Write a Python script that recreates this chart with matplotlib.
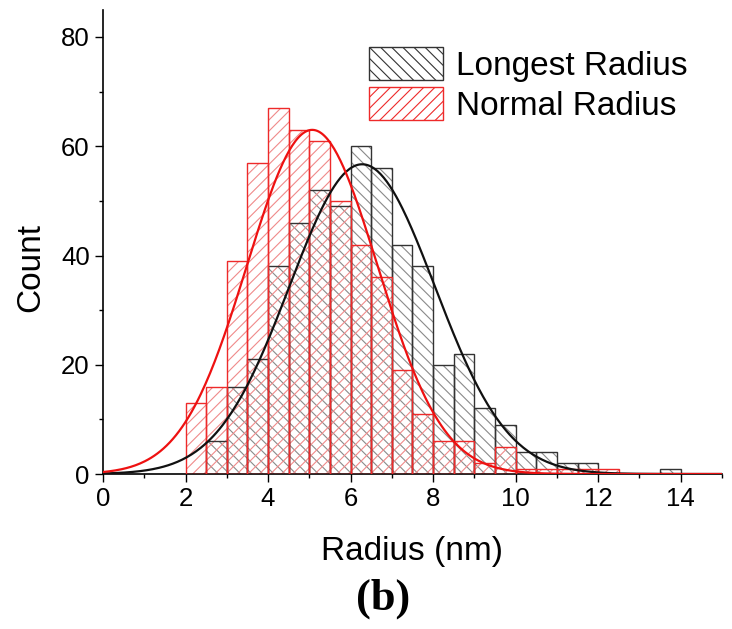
import numpy as np
import matplotlib
matplotlib.use("Agg")
import matplotlib.pyplot as plt
from matplotlib.ticker import MultipleLocator
from matplotlib.patches import Patch

# ---- data ----
bin_left = [2.0, 2.5, 3.0, 3.5, 4.0, 4.5, 5.0, 5.5, 6.0, 6.5, 7.0, 7.5,
            8.0, 8.5, 9.0, 9.5, 10.0, 10.5, 11.0, 11.5, 12.0, 12.5, 13.0, 13.5]
longest_counts = [0, 6, 16, 21, 38, 46, 52, 49, 60, 56, 42, 38,
                  20, 22, 12, 9, 4, 4, 2, 2, 0, 0, 0, 1]
normal_counts = [13, 16, 39, 57, 67, 63, 61, 50, 42, 36, 19, 11,
                 6, 6, 2, 5, 1, 1, 1, 1, 1, 0, 0, 0]
bin_width = 0.5

# Gaussian fit parameters
longest_fit = dict(amp=56.7, mu=6.28, sigma=1.76)
normal_fit = dict(amp=63.0, mu=5.07, sigma=1.58)

x_ticks = [0, 2, 4, 6, 8, 10, 12, 14]
y_ticks = [0, 20, 40, 60, 80]

plt.rcParams['font.family'] = ['Liberation Sans', 'DejaVu Sans']
plt.rcParams['hatch.linewidth'] = 0.8

fig = plt.figure(figsize=(7.32, 6.29), dpi=100)
ax = fig.add_axes([0.1407, 0.2464, 0.8456, 0.7382])

def draw(counts, hatch, hatch_col, edge_col):
    counts = np.asarray(counts, dtype=float)
    left = np.asarray(bin_left)
    m = counts > 0
    ax.bar(left[m], counts[m], width=bin_width, align='edge', fill=False,
           hatch=hatch, edgecolor=hatch_col, linewidth=0, zorder=2)
    ax.bar(left[m], counts[m], width=bin_width, align='edge', fill=False,
           edgecolor=edge_col, linewidth=1.0, zorder=3)

draw(longest_counts, '\\\\\\', '#8a8a8a', '#333333')
draw(normal_counts, '///', '#f08a8a', '#ee2a2a')

xs = np.linspace(0, 15, 400)
def gauss(p):
    return p['amp'] * np.exp(-(xs - p['mu'])**2 / (2 * p['sigma']**2))
ax.plot(xs, gauss(longest_fit), color='#111111', lw=1.6, zorder=4)
ax.plot(xs, gauss(normal_fit), color='#ee1111', lw=1.6, zorder=5)

# legend
h1 = Patch(facecolor='none', edgecolor='#333333', hatch='\\\\\\', label='Longest Radius')
h2 = Patch(facecolor='none', edgecolor='#ee2a2a', hatch='///', label='Normal Radius')
ax.legend(handles=[h1, h2], loc='upper left', bbox_to_anchor=(0.398, 0.963),
          frameon=False, fontsize=24, handlelength=2.2, handleheight=1.15,
          labelspacing=0.15, handletextpad=0.4, borderaxespad=0.2)

ax.set_xlim(0, 15)
ax.set_ylim(0, 85)
ax.set_xticks(x_ticks)
ax.set_yticks(y_ticks)
ax.xaxis.set_minor_locator(MultipleLocator(1))
ax.yaxis.set_minor_locator(MultipleLocator(10))
ax.tick_params(axis='both', which='major', labelsize=18.5, length=6, width=1, direction='out')
ax.tick_params(axis='both', which='minor', length=3, width=1, direction='out')
for s in ['top', 'right']:
    ax.spines[s].set_visible(False)
for s in ['left', 'bottom']:
    ax.spines[s].set_linewidth(1.2)

ax.set_xlabel('Radius (nm)', fontsize=24, labelpad=18)
ax.set_ylabel('Count', fontsize=24)
ax.yaxis.set_label_coords(-0.092, 0.444)

fig.text(0.523, 0.048, '(b)', fontsize=32, fontweight='bold',
         family=['Liberation Serif', 'DejaVu Serif'], ha='center', va='center')

fig.savefig('out.png', dpi=100)
